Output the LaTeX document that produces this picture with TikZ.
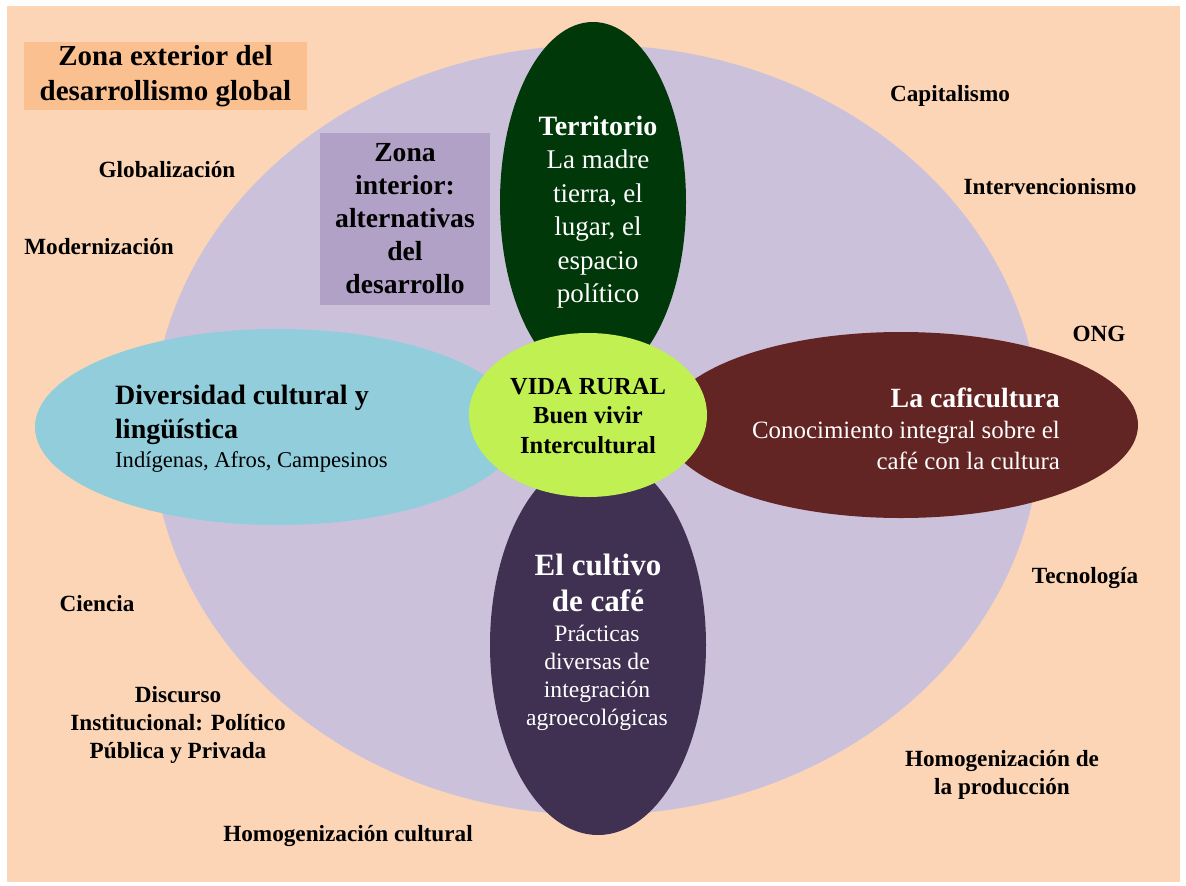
\documentclass[tikz,border=0pt]{standalone}
\usepackage{fontspec}
\setmainfont{Liberation Serif}
\usetikzlibrary{shapes.geometric}
\definecolor{peach}{RGB}{251,213,181}
\definecolor{lav}{RGB}{204,193,218}
\definecolor{orangebox}{RGB}{250,192,144}
\definecolor{lavbox}{RGB}{178,161,199}
\definecolor{terr}{RGB}{0,56,10}
\definecolor{aqua}{RGB}{146,205,220}
\definecolor{brownred}{RGB}{99,37,35}
\definecolor{dpurple}{RGB}{64,49,82}
\definecolor{lime}{RGB}{193,240,82}
\tikzset{
  petal/.style={ellipse, draw=none, inner sep=0pt},
  lbl/.style={font=\bfseries\fontsize{23.2}{28}\selectfont, align=center, inner sep=0pt},
  big/.style={font=\bfseries\fontsize{29}{35}\selectfont, align=center, inner sep=0pt},
}
\begin{document}
\begin{tikzpicture}[x=1pt,y=-1pt]
\useasboundingbox (0,0) rectangle (1186,886);
\fill[white] (0,0) rectangle (1186,886);
\fill[peach] (7,6) rectangle (1180,882);
% big zone
\node[petal, fill=lav, minimum width=888pt, minimum height=770pt] (zone) at (596,430) {};
% boxes
\node[fill=orangebox, minimum width=283pt, minimum height=68pt, inner sep=0pt] (ext) at (165.5,76) {};
\node[big] (extt) at (ext.center) {Zona exterior del\\desarrollismo global};
\node[fill=lavbox, minimum width=170pt, minimum height=172pt, inner sep=0pt] (int) at (405,219) {};
\node[big, font=\bfseries\fontsize{27.6}{33}\selectfont] (intt) at (int.center) {Zona\\interior:\\alternativas\\del\\desarrollo};
% petals
\node[petal, fill=terr, minimum width=186pt, minimum height=360pt] (terr) at (593,202) {};
\node[petal, fill=aqua, minimum width=486pt, minimum height=196pt] (div) at (278,427) {};
\node[petal, fill=brownred, minimum width=474pt, minimum height=186pt] (caf) at (901,425) {};
\node[petal, fill=dpurple, minimum width=216pt, minimum height=380pt] (cult) at (598,645) {};
\node[petal, fill=lime, minimum width=238pt, minimum height=164pt] (vida) at (588,415) {};
% petal texts
\node[align=center, text=white, inner sep=0pt, font=\fontsize{27}{33.5}\selectfont] (terrt) at (598,212)
  {{\fontsize{28}{33.5}\selectfont\textbf{Territorio}}\\La madre\\tierra, el\\lugar, el\\espacio\\político};
\node[align=left, anchor=west, inner sep=0pt, font=\bfseries\fontsize{28}{34}\selectfont] (divt) at (115,415)
  {Diversidad cultural y\\lingüística};
\node[anchor=west, inner sep=0pt, font=\fontsize{22.6}{24}\selectfont] (divs) at (115,462)
  {Indígenas, Afros, Campesinos};
\node[anchor=east, text=white, inner sep=0pt, font=\bfseries\fontsize{27.8}{31}\selectfont] (caft) at (1060,398)
  {La caficultura};
\node[align=right, anchor=east, text=white, inner sep=0pt, font=\fontsize{24.9}{31}\selectfont] (cafs) at (1060,445.5)
  {Conocimiento integral sobre el\\café con la cultura};
\node[align=center, text=white, inner sep=0pt, font=\bfseries\fontsize{31}{36}\selectfont] (cultt) at (598,583)
  {El cultivo\\de café};
\node[align=center, text=white, inner sep=0pt, font=\fontsize{23.6}{28}\selectfont] (cults) at (597,677.5)
  {Prácticas\\diversas de\\integración\\agroecológicas};
\node[align=center, inner sep=0pt, font=\bfseries\fontsize{24.5}{29.5}\selectfont] (vidat) at (588,416)
  {VIDA RURAL\\Buen vivir\\Intercultural};
% outer labels
\node[lbl] (capi) at (950,96) {Capitalismo};
\node[lbl] (inter) at (1050,187) {Intervencionismo};
\node[lbl] (glob) at (167,170) {Globalización};
\node[lbl] (mod) at (99,247) {Modernización};
\node[lbl] (ong) at (1099,334) {ONG};
\node[lbl] (tec) at (1085,578) {Tecnología};
\node[lbl] (cien) at (97,604) {Ciencia};
\node[lbl] (disc) at (178,725) {Discurso\\Institucional: Político\\Pública y Privada};
\node[lbl] (homc) at (348,836) {Homogenización cultural};
\node[lbl] (homp) at (1002,775) {Homogenización de\\la producción};
\end{tikzpicture}
\end{document}
